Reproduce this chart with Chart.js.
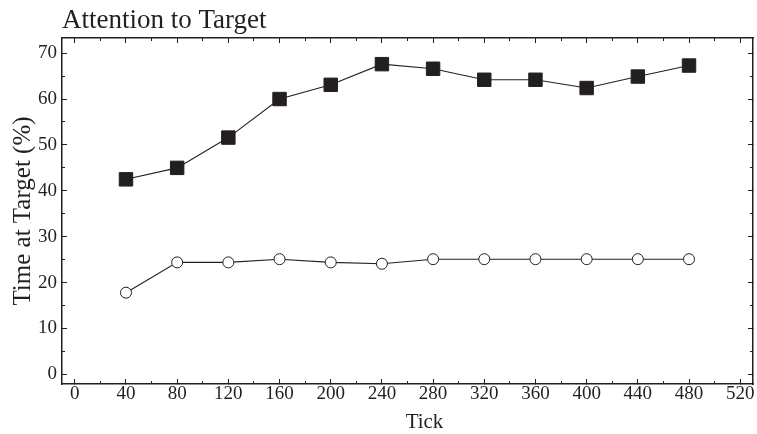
<!DOCTYPE html>
<html>
<head>
<meta charset="utf-8">
<script src="https://cdn.jsdelivr.net/npm/chart.js@4/dist/chart.umd.min.js"></script>
<style>
  html, body { margin: 0; padding: 0; background: #fff; }
  #wrap { width: 757px; height: 434px; }
</style>
</head>
<body>
<div id="wrap"><canvas id="c" width="757" height="434"></canvas></div>
<script>
const titleText = "Attention to Target";
const xAxisTitle = "Tick";
const yAxisTitle = "Time at Target (%)";
const ticks = [40, 80, 120, 160, 200, 240, 280, 320, 360, 400, 440, 480];
const filledSeries = [42.5, 45.0, 51.6, 60.0, 63.1, 67.6, 66.6, 64.2, 64.2, 62.4, 64.9, 67.3];
const openSeries = [17.8, 24.4, 24.4, 25.1, 24.4, 24.1, 25.1, 25.1, 25.1, 25.1, 25.1, 25.1];
const xMajorTicks = [0, 40, 80, 120, 160, 200, 240, 280, 320, 360, 400, 440, 480, 520];
const xMinorTicks = [20, 60, 100, 140, 180, 220, 260, 300, 340, 380, 420, 460, 500];
const yMajorTicks = [0, 10, 20, 30, 40, 50, 60, 70];
const yMinorTicks = [5, 15, 25, 35, 45, 55, 65];

const FONT = "'Liberation Serif', 'Times New Roman', serif";
const INK = '#231f20';
const X_MIN = -10, X_MAX = 530, Y_MIN = -2.1, Y_MAX = 73.3;

function setTicks(values) {
  return function (scale) { scale.ticks = values.map(v => ({ value: v })); };
}
function fixSize(w, h) {
  return function (scale) {
    if (w !== null) scale.width = w;
    if (h !== null) scale.height = h;
    scale.paddingLeft = 0; scale.paddingRight = 0;
    scale.paddingTop = 0; scale.paddingBottom = 0;
  };
}
function tickGrid(len) {
  return { display: true, drawOnChartArea: false, drawTicks: true, tickLength: len, tickColor: INK, tickWidth: 1, color: INK };
}
function hiddenAxis(axis, position, values, len, w, h, showBorder, weight) {
  return {
    type: 'linear', axis: axis, position: position, weight: weight,
    min: axis === 'x' ? X_MIN : Y_MIN, max: axis === 'x' ? X_MAX : Y_MAX,
    afterBuildTicks: setTicks(values),
    afterFit: fixSize(w, h),
    ticks: { display: false },
    grid: tickGrid(len),
    border: { display: showBorder, color: INK, width: 1.5 }
  };
}

// x-axis title, drawn slightly right of centre as in the original figure
const xTitlePlugin = {
  id: 'xTitle',
  afterDraw(chart) {
    const s = chart.scales.x;
    const ctx = chart.ctx;
    ctx.save();
    ctx.fillStyle = INK;
    ctx.font = "21px " + FONT;
    ctx.textAlign = 'center';
    ctx.textBaseline = 'alphabetic';
    ctx.fillText(xAxisTitle, (s.left + s.right) / 2 + 17, s.bottom - 6);
    ctx.restore();
  }
};

const pts = (arr) => ticks.map((t, i) => ({ x: t, y: arr[i] }));

new Chart(document.getElementById('c'), {
  type: 'line',
  data: {
    datasets: [
      {
        data: pts(filledSeries),
        borderColor: INK, borderWidth: 1.1,
        pointStyle: 'rect', pointRadius: 9.5,
        pointBackgroundColor: INK, pointBorderColor: INK, pointBorderWidth: 1,
        xAxisID: 'x', yAxisID: 'y'
      },
      {
        data: pts(openSeries),
        borderColor: INK, borderWidth: 1.1,
        pointStyle: 'circle', pointRadius: 5.5,
        pointBackgroundColor: '#fff', pointBorderColor: INK, pointBorderWidth: 1,
        xAxisID: 'x', yAxisID: 'y'
      }
    ]
  },
  plugins: [xTitlePlugin],
  options: {
    responsive: false,
    animation: false,
    layout: { autoPadding: false, padding: { left: 0, right: 4, top: 0, bottom: 0 } },
    plugins: {
      legend: { display: false },
      tooltip: { enabled: false },
      title: {
        display: true, text: titleText, align: 'start', fullSize: false,
        color: INK, font: { family: FONT, size: 27, weight: 'normal', lineHeight: 1.2 },
        padding: { top: 5, bottom: 0.6 }
      }
    },
    scales: {
      x: {
        type: 'linear', position: 'bottom', min: X_MIN, max: X_MAX,
        afterBuildTicks: setTicks(xMajorTicks),
        afterFit: fixSize(null, 50),
        ticks: { color: INK, font: { family: FONT, size: 19 }, padding: 4, maxRotation: 0, autoSkip: false },
        grid: tickGrid(-5),
        border: { display: true, color: INK, width: 1.5 },
        title: { display: false }
      },
      y: {
        type: 'linear', position: 'left', min: Y_MIN, max: Y_MAX,
        afterBuildTicks: setTicks(yMajorTicks),
        afterFit: fixSize(62, null),
        ticks: { color: INK, font: { family: FONT, size: 19 }, padding: 10 },
        grid: tickGrid(-5),
        border: { display: true, color: INK, width: 1.5 },
        title: { display: true, text: yAxisTitle, color: INK, font: { family: FONT, size: 25 }, padding: { top: 8, bottom: 0 } }
      },
      xMinor: hiddenAxis('x', 'bottom', xMinorTicks, -3, null, 0, false, -1),
      xTop: hiddenAxis('x', 'top', xMajorTicks, -5, null, 0, true, 0),
      xTopMinor: hiddenAxis('x', 'top', xMinorTicks, -3, null, 0, false, -1),
      yMinor: hiddenAxis('y', 'left', yMinorTicks, -3, 0, null, false, -1),
      yRight: hiddenAxis('y', 'right', yMajorTicks, -5, 0, null, true, 0),
      yRightMinor: hiddenAxis('y', 'right', yMinorTicks, -3, 0, null, false, -1)
    }
  }
});
</script>
</body>
</html>
